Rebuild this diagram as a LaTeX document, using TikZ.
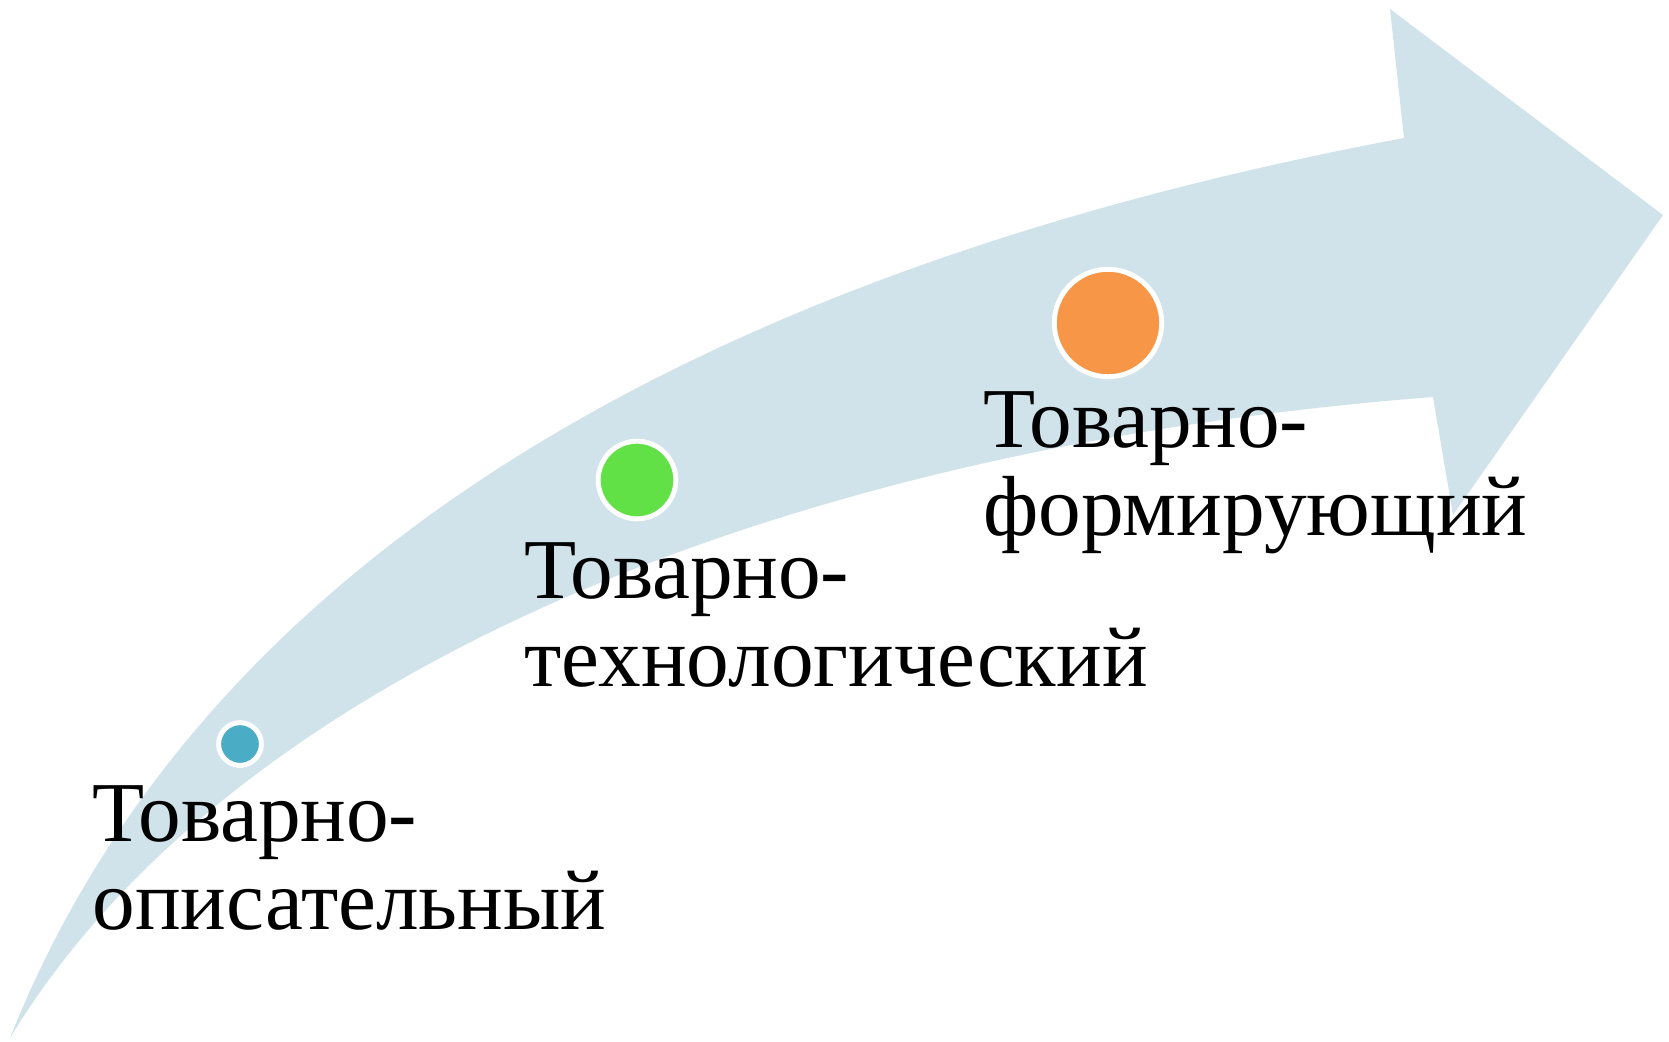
\documentclass[tikz,border=0pt]{standalone}
\usepackage{fontspec}
\setmainfont{Liberation Serif}
\definecolor{bandblue}{RGB}{208,227,234}
\definecolor{dotblue}{RGB}{75,172,198}
\definecolor{dotgreen}{RGB}{98,225,71}
\definecolor{dotorange}{RGB}{247,150,70}
\begin{document}
\begin{tikzpicture}[x=0.01cm, y=-0.01cm,
    dot/.style={circle, draw=white, line width=1.4pt, inner sep=0pt},
    stage/.style={anchor=north west, inner sep=0pt, align=left,
      font=\fontsize{24.25}{25}\selectfont}]
    \useasboundingbox (0,0) rectangle (1669,1041);

    \fill [bandblue] (10,1038) .. controls (200,560) and (700,270) .. (1404,138)
      -- (1390,9) -- (1663,215) -- (1453,515) -- (1433,397)
      .. controls (750,450) and (220,690) .. (10,1038) -- cycle;

    \node [dot, fill=dotblue, minimum size=0.427cm] (d1) at (240,744) {};
    \node [dot, fill=dotgreen, minimum size=0.776cm] (d2) at (637,480) {};
    \node [dot, fill=dotorange, minimum size=1.074cm] (d3) at (1108,323) {};

    \node [stage] (t1) at (92,785) {Товарно-\\описательный};
    \node [stage] (t2) at (524,542) {Товарно-\\технологический};
    \node [stage] (t3) at (983,391) {Товарно-\\формирующий};
\end{tikzpicture}
\end{document}
